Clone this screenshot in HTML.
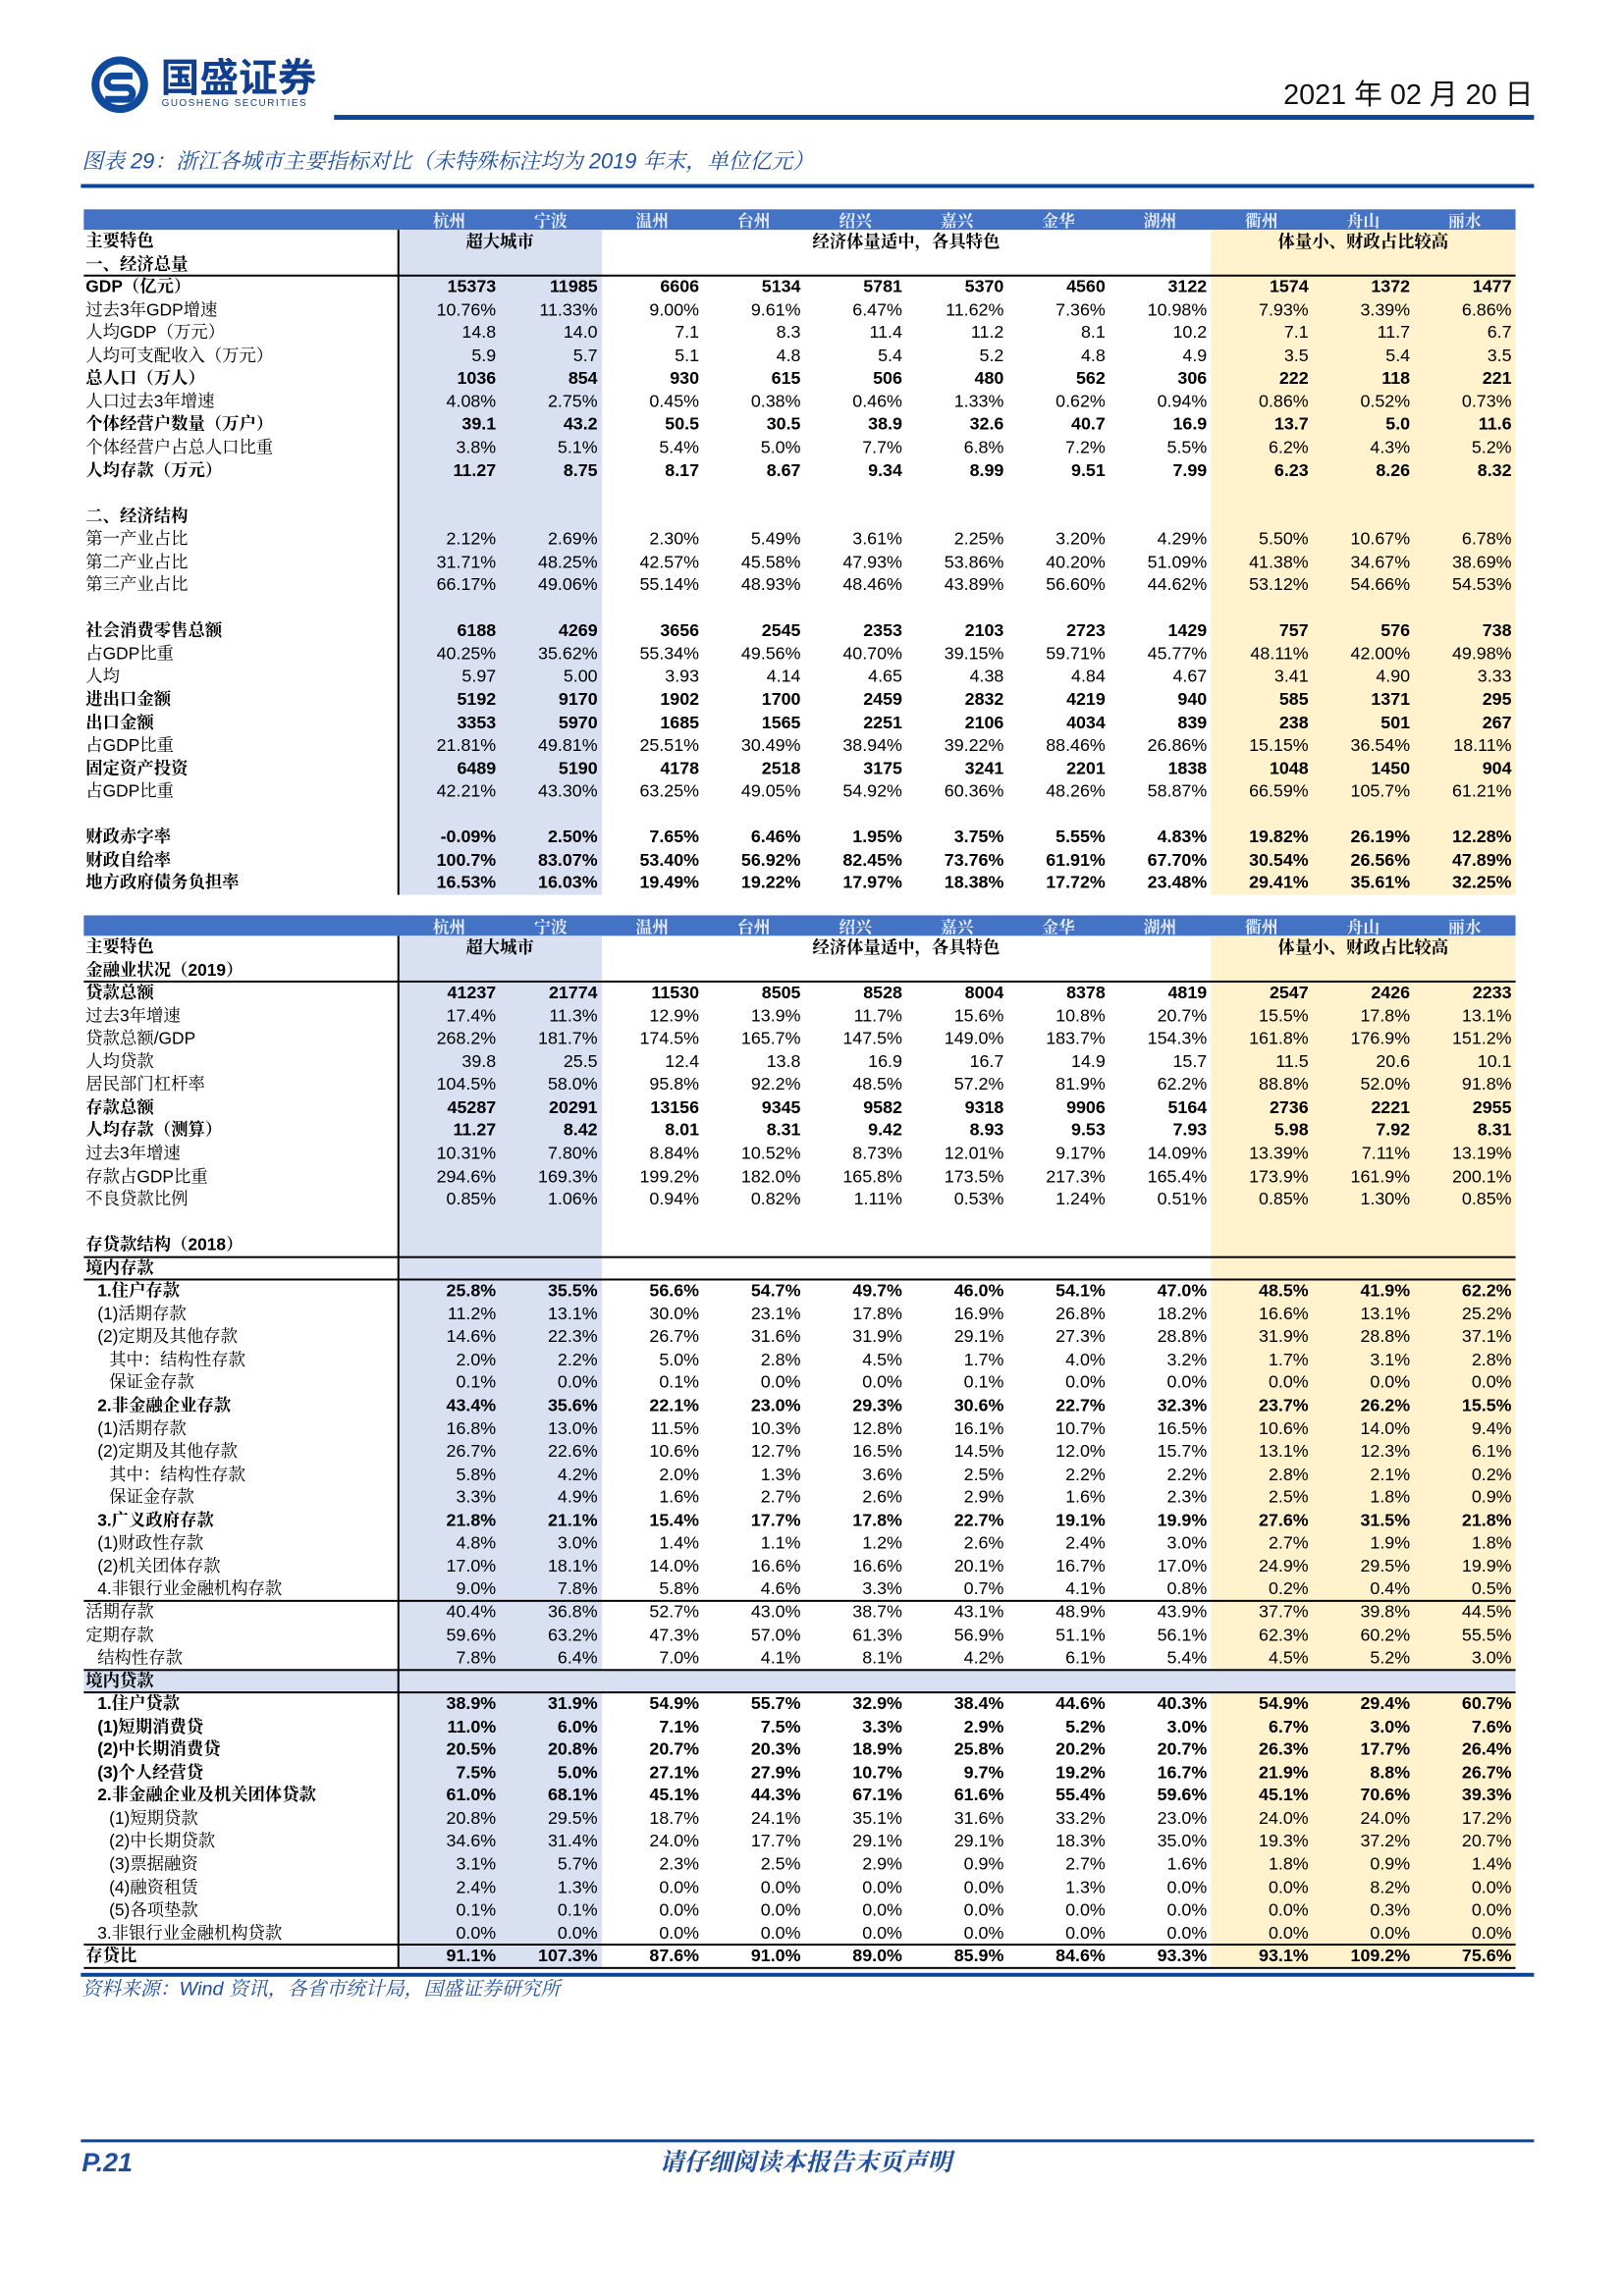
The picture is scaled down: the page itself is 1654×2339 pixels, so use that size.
<!DOCTYPE html>
<html><head><meta charset="utf-8">
<style>
body{margin:0;background:#fff;}
#wrap{position:relative;width:1654px;height:2339px;overflow:hidden;background:#fff;}
#page{position:absolute;left:0;top:0;width:1654px;height:2339px;transform:scale(0.992);transform-origin:0 0;font-family:"Liberation Sans","Noto Sans CJK SC",sans-serif;color:#000;}
.abs{position:absolute;}
.cell{position:absolute;white-space:nowrap;line-height:23.5px;font-size:18px;text-align:right;}
.lab{position:absolute;white-space:nowrap;line-height:23.5px;font-size:17.5px;font-family:"Liberation Sans","Noto Serif CJK SC",serif;}
.b{font-weight:bold;}
.hl{position:absolute;background:#000;height:2px;}
</style></head><body>
<div id="wrap">
<div id="page">
  <div class="abs" style="left:92px;top:56px;width:62px;height:62px;">
    <svg width="62" height="62" viewBox="0 0 62 62"><circle cx="31" cy="31" r="29" fill="#0f4a9c"/><circle cx="31" cy="31" r="21" fill="#fff"/><path d="M44 22 H24 a6 6 0 0 0 0 12 H38 a6 6 0 0 1 0 12 H16" stroke="#0f4a9c" stroke-width="7" fill="none"/></svg>
  </div>
  <div class="abs" style="left:165px;top:54px;font-size:40px;font-weight:bold;color:#0f3f8e;font-family:'Noto Sans CJK SC',sans-serif;line-height:46px;">国盛证券</div>
  <div class="abs" style="left:166px;top:101px;font-size:10px;color:#0f3f8e;letter-spacing:1.5px;">GUOSHENG SECURITIES</div>
  <div class="abs" style="right:80px;top:80px;font-size:29px;color:#111;line-height:36px;font-family:'Liberation Sans','Noto Sans CJK SC',sans-serif;">2021 年 02 月 20 日</div>
  <div class="abs" style="left:343px;top:118px;width:1232px;height:5px;background:#0d4595;"></div>
  <div class="abs" style="left:84px;top:151px;font-size:22px;font-style:italic;color:#1f4f9e;line-height:30px;font-family:'Liberation Sans','Noto Serif CJK SC',serif;">图表 29：浙江各城市主要指标对比（未特殊标注均为 2019 年末，单位亿元）</div>
  <div class="abs" style="left:83px;top:189px;width:1492px;height:4px;background:#0d4595;"></div>

  <div id="t1"></div>
  <div id="t2"></div>

  <div class="abs" style="left:83px;top:2026px;width:1492px;height:4px;background:#0d4595;"></div>
  <div class="abs" style="left:84px;top:2029px;font-size:20px;font-style:italic;color:#1f4f9e;line-height:28px;font-family:'Liberation Sans','Noto Serif CJK SC',serif;">资料来源：Wind 资讯，各省市统计局，国盛证券研究所</div>
  <div class="abs" style="left:83px;top:2197px;width:1492px;height:3px;background:#0d4595;"></div>
  <div class="abs" style="left:84px;top:2204px;font-size:27px;font-weight:bold;font-style:italic;color:#1f4f9e;line-height:34px;">P.21</div>
  <div class="abs" style="left:0;width:1654px;text-align:center;top:2204px;font-size:25px;font-weight:bold;font-style:italic;color:#1f4f9e;line-height:34px;font-family:'Liberation Sans','Noto Serif CJK SC',serif;">请仔细阅读本报告末页声明</div>
</div>
</div>
<script>
const cities = ["杭州","宁波","温州","台州","绍兴","嘉兴","金华","湖州","衢州","舟山","丽水"];
const groups = [["超大城市",0,2],["经济体量适中，各具特色",2,8],["体量小、财政占比较高",8,11]];
const rows1 = [
["主要特色",1,0,null],
["一、经济总量",1,0,null],
["GDP（亿元）",1,0,["15373","11985","6606","5134","5781","5370","4560","3122","1574","1372","1477"]],
["过去3年GDP增速",0,0,["10.76%","11.33%","9.00%","9.61%","6.47%","11.62%","7.36%","10.98%","7.93%","3.39%","6.86%"]],
["人均GDP（万元）",0,0,["14.8","14.0","7.1","8.3","11.4","11.2","8.1","10.2","7.1","11.7","6.7"]],
["人均可支配收入（万元）",0,0,["5.9","5.7","5.1","4.8","5.4","5.2","4.8","4.9","3.5","5.4","3.5"]],
["总人口（万人）",1,0,["1036","854","930","615","506","480","562","306","222","118","221"]],
["人口过去3年增速",0,0,["4.08%","2.75%","0.45%","0.38%","0.46%","1.33%","0.62%","0.94%","0.86%","0.52%","0.73%"]],
["个体经营户数量（万户）",1,0,["39.1","43.2","50.5","30.5","38.9","32.6","40.7","16.9","13.7","5.0","11.6"]],
["个体经营户占总人口比重",0,0,["3.8%","5.1%","5.4%","5.0%","7.7%","6.8%","7.2%","5.5%","6.2%","4.3%","5.2%"]],
["人均存款（万元）",1,0,["11.27","8.75","8.17","8.67","9.34","8.99","9.51","7.99","6.23","8.26","8.32"]],
["",0,0,null],
["二、经济结构",1,0,null],
["第一产业占比",0,0,["2.12%","2.69%","2.30%","5.49%","3.61%","2.25%","3.20%","4.29%","5.50%","10.67%","6.78%"]],
["第二产业占比",0,0,["31.71%","48.25%","42.57%","45.58%","47.93%","53.86%","40.20%","51.09%","41.38%","34.67%","38.69%"]],
["第三产业占比",0,0,["66.17%","49.06%","55.14%","48.93%","48.46%","43.89%","56.60%","44.62%","53.12%","54.66%","54.53%"]],
["",0,0,null],
["社会消费零售总额",1,0,["6188","4269","3656","2545","2353","2103","2723","1429","757","576","738"]],
["占GDP比重",0,0,["40.25%","35.62%","55.34%","49.56%","40.70%","39.15%","59.71%","45.77%","48.11%","42.00%","49.98%"]],
["人均",0,0,["5.97","5.00","3.93","4.14","4.65","4.38","4.84","4.67","3.41","4.90","3.33"]],
["进出口金额",1,0,["5192","9170","1902","1700","2459","2832","4219","940","585","1371","295"]],
["出口金额",1,0,["3353","5970","1685","1565","2251","2106","4034","839","238","501","267"]],
["占GDP比重",0,0,["21.81%","49.81%","25.51%","30.49%","38.94%","39.22%","88.46%","26.86%","15.15%","36.54%","18.11%"]],
["固定资产投资",1,0,["6489","5190","4178","2518","3175","3241","2201","1838","1048","1450","904"]],
["占GDP比重",0,0,["42.21%","43.30%","63.25%","49.05%","54.92%","60.36%","48.26%","58.87%","66.59%","105.7%","61.21%"]],
["",0,0,null],
["财政赤字率",1,0,["-0.09%","2.50%","7.65%","6.46%","1.95%","3.75%","5.55%","4.83%","19.82%","26.19%","12.28%"]],
["财政自给率",1,0,["100.7%","83.07%","53.40%","56.92%","82.45%","73.76%","61.91%","67.70%","30.54%","26.56%","47.89%"]],
["地方政府债务负担率",1,0,["16.53%","16.03%","19.49%","19.22%","17.97%","18.38%","17.72%","23.48%","29.41%","35.61%","32.25%"]]
];
const rows2 = [
["主要特色",1,0,null],
["金融业状况（2019）",1,0,null],
["贷款总额",1,0,["41237","21774","11530","8505","8528","8004","8378","4819","2547","2426","2233"]],
["过去3年增速",0,0,["17.4%","11.3%","12.9%","13.9%","11.7%","15.6%","10.8%","20.7%","15.5%","17.8%","13.1%"]],
["贷款总额/GDP",0,0,["268.2%","181.7%","174.5%","165.7%","147.5%","149.0%","183.7%","154.3%","161.8%","176.9%","151.2%"]],
["人均贷款",0,0,["39.8","25.5","12.4","13.8","16.9","16.7","14.9","15.7","11.5","20.6","10.1"]],
["居民部门杠杆率",0,0,["104.5%","58.0%","95.8%","92.2%","48.5%","57.2%","81.9%","62.2%","88.8%","52.0%","91.8%"]],
["存款总额",1,0,["45287","20291","13156","9345","9582","9318","9906","5164","2736","2221","2955"]],
["人均存款（测算）",1,0,["11.27","8.42","8.01","8.31","9.42","8.93","9.53","7.93","5.98","7.92","8.31"]],
["过去3年增速",0,0,["10.31%","7.80%","8.84%","10.52%","8.73%","12.01%","9.17%","14.09%","13.39%","7.11%","13.19%"]],
["存款占GDP比重",0,0,["294.6%","169.3%","199.2%","182.0%","165.8%","173.5%","217.3%","165.4%","173.9%","161.9%","200.1%"]],
["不良贷款比例",0,0,["0.85%","1.06%","0.94%","0.82%","1.11%","0.53%","1.24%","0.51%","0.85%","1.30%","0.85%"]],
["",0,0,null],
["存贷款结构（2018）",1,0,null],
["境内存款",1,0,null],
["1.住户存款",1,1,["25.8%","35.5%","56.6%","54.7%","49.7%","46.0%","54.1%","47.0%","48.5%","41.9%","62.2%"]],
["(1)活期存款",0,1,["11.2%","13.1%","30.0%","23.1%","17.8%","16.9%","26.8%","18.2%","16.6%","13.1%","25.2%"]],
["(2)定期及其他存款",0,1,["14.6%","22.3%","26.7%","31.6%","31.9%","29.1%","27.3%","28.8%","31.9%","28.8%","37.1%"]],
["其中：结构性存款",0,2,["2.0%","2.2%","5.0%","2.8%","4.5%","1.7%","4.0%","3.2%","1.7%","3.1%","2.8%"]],
["保证金存款",0,2,["0.1%","0.0%","0.1%","0.0%","0.0%","0.1%","0.0%","0.0%","0.0%","0.0%","0.0%"]],
["2.非金融企业存款",1,1,["43.4%","35.6%","22.1%","23.0%","29.3%","30.6%","22.7%","32.3%","23.7%","26.2%","15.5%"]],
["(1)活期存款",0,1,["16.8%","13.0%","11.5%","10.3%","12.8%","16.1%","10.7%","16.5%","10.6%","14.0%","9.4%"]],
["(2)定期及其他存款",0,1,["26.7%","22.6%","10.6%","12.7%","16.5%","14.5%","12.0%","15.7%","13.1%","12.3%","6.1%"]],
["其中：结构性存款",0,2,["5.8%","4.2%","2.0%","1.3%","3.6%","2.5%","2.2%","2.2%","2.8%","2.1%","0.2%"]],
["保证金存款",0,2,["3.3%","4.9%","1.6%","2.7%","2.6%","2.9%","1.6%","2.3%","2.5%","1.8%","0.9%"]],
["3.广义政府存款",1,1,["21.8%","21.1%","15.4%","17.7%","17.8%","22.7%","19.1%","19.9%","27.6%","31.5%","21.8%"]],
["(1)财政性存款",0,1,["4.8%","3.0%","1.4%","1.1%","1.2%","2.6%","2.4%","3.0%","2.7%","1.9%","1.8%"]],
["(2)机关团体存款",0,1,["17.0%","18.1%","14.0%","16.6%","16.6%","20.1%","16.7%","17.0%","24.9%","29.5%","19.9%"]],
["4.非银行业金融机构存款",0,1,["9.0%","7.8%","5.8%","4.6%","3.3%","0.7%","4.1%","0.8%","0.2%","0.4%","0.5%"]],
["活期存款",0,0,["40.4%","36.8%","52.7%","43.0%","38.7%","43.1%","48.9%","43.9%","37.7%","39.8%","44.5%"]],
["定期存款",0,0,["59.6%","63.2%","47.3%","57.0%","61.3%","56.9%","51.1%","56.1%","62.3%","60.2%","55.5%"]],
["结构性存款",0,1,["7.8%","6.4%","7.0%","4.1%","8.1%","4.2%","6.1%","5.4%","4.5%","5.2%","3.0%"]],
["境内贷款",1,0,null],
["1.住户贷款",1,1,["38.9%","31.9%","54.9%","55.7%","32.9%","38.4%","44.6%","40.3%","54.9%","29.4%","60.7%"]],
["(1)短期消费贷",1,1,["11.0%","6.0%","7.1%","7.5%","3.3%","2.9%","5.2%","3.0%","6.7%","3.0%","7.6%"]],
["(2)中长期消费贷",1,1,["20.5%","20.8%","20.7%","20.3%","18.9%","25.8%","20.2%","20.7%","26.3%","17.7%","26.4%"]],
["(3)个人经营贷",1,1,["7.5%","5.0%","27.1%","27.9%","10.7%","9.7%","19.2%","16.7%","21.9%","8.8%","26.7%"]],
["2.非金融企业及机关团体贷款",1,1,["61.0%","68.1%","45.1%","44.3%","67.1%","61.6%","55.4%","59.6%","45.1%","70.6%","39.3%"]],
["(1)短期贷款",0,2,["20.8%","29.5%","18.7%","24.1%","35.1%","31.6%","33.2%","23.0%","24.0%","24.0%","17.2%"]],
["(2)中长期贷款",0,2,["34.6%","31.4%","24.0%","17.7%","29.1%","29.1%","18.3%","35.0%","19.3%","37.2%","20.7%"]],
["(3)票据融资",0,2,["3.1%","5.7%","2.3%","2.5%","2.9%","0.9%","2.7%","1.6%","1.8%","0.9%","1.4%"]],
["(4)融资租赁",0,2,["2.4%","1.3%","0.0%","0.0%","0.0%","0.0%","1.3%","0.0%","0.0%","8.2%","0.0%"]],
["(5)各项垫款",0,2,["0.1%","0.1%","0.0%","0.0%","0.0%","0.0%","0.0%","0.0%","0.0%","0.3%","0.0%"]],
["3.非银行业金融机构贷款",0,1,["0.0%","0.0%","0.0%","0.0%","0.0%","0.0%","0.0%","0.0%","0.0%","0.0%","0.0%"]],
["存贷比",1,0,["91.1%","107.3%","87.6%","91.0%","89.0%","85.9%","84.6%","93.3%","93.1%","109.2%","75.6%"]]
];
const lines1 = [2];
const lines2 = [2,14,15,29,32,33,44,45];
const fullBand2 = [32];

const L=86, LABW=323, CW=104.27, RH=23.55, HH=21;
const page=document.getElementById('page');
function colX(i){return L+LABW+i*CW;}
function mk(cls,style,text){const d=document.createElement('div');d.className=cls;d.style.cssText=style;if(text!==undefined)d.textContent=text;page.appendChild(d);return d;}
function build(top,rows,lines,bands,id){
  const bodyTop=top+HH, n=rows.length, bodyH=n*RH;
  const hb=mk('abs',`left:${L}px;top:${top}px;width:${LABW+11*CW}px;height:${HH}px;background:#4472c4;`);
  
  
  cities.forEach((c,i)=>{
    const h=mk('abs',`left:${colX(i)}px;top:${top}px;width:${CW}px;text-align:center;line-height:${HH}px;font-size:17px;font-weight:bold;color:#e4ebf7;font-family:'Noto Serif CJK SC',serif;`,c);
    
    
  });
  const s1=mk('abs',`left:${colX(0)}px;top:${bodyTop}px;width:${2*CW}px;height:${bodyH}px;background:#d9e0f2;`);
  
  
  const s2=mk('abs',`left:${colX(8)}px;top:${bodyTop}px;width:${3*CW}px;height:${bodyH}px;background:#fff2cc;`);
  
  
  bands.forEach(r=>{
    const b=mk('abs',`left:${L}px;top:${bodyTop+r*RH}px;width:${LABW+11*CW}px;height:${RH}px;background:#d9e0f2;`);
    
    
  });
  const vl=mk('abs',`left:${colX(0)-1}px;top:${bodyTop}px;width:1.5px;height:${bodyH}px;background:#000;`);
  
  
  lines.forEach(r=>{
    const h=mk('hl',`left:${L}px;top:${bodyTop+r*RH-1}px;width:${LABW+11*CW}px;`);
    
    
  });
  groups.forEach(g=>{
    const d=mk('abs',`left:${colX(g[1])}px;top:${bodyTop}px;width:${(g[2]-g[1])*CW}px;text-align:center;line-height:${RH}px;font-size:17.5px;font-weight:bold;font-family:'Noto Serif CJK SC',serif;`,g[0]);
    
    
  });
  rows.forEach((r,ri)=>{
    const y=bodyTop+ri*RH;
    if(r[0]){
      const lb=mk('lab'+(r[1]?' b':''),`left:${L+2+r[2]*12}px;top:${y}px;`,r[0]);
      
      
    }
    if(r[3]) r[3].forEach((v,ci)=>{
      const c=mk('cell'+(r[1]?' b':''),`left:${colX(ci)}px;top:${y}px;width:${CW-4}px;`,v);
      
      
    });
  });
}
build(215,rows1,lines1,[],'t1');
build(940,rows2,lines2,fullBand2,'t2');
</script>
</body></html>
